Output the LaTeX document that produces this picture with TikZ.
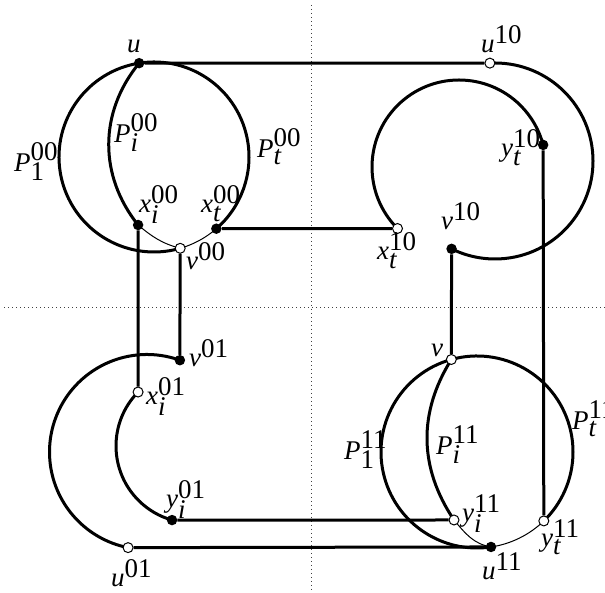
\documentclass[tikz,border=0pt]{standalone}
\usepackage{fontspec}
\setmainfont{Liberation Serif}
\usetikzlibrary{calc}
\pgfdeclarelayer{bg}
\pgfsetlayers{bg,main}
\newcommand{\lb}[3]{$\textit{#1}^{\textrm{#3}}_{#2}$}
\tikzset{
 bdot/.style={circle, fill=black, inner sep=0pt, minimum size=10.5pt},
 wdot/.style={circle, fill=white, draw=black, line width=1pt, inner sep=0pt, minimum size=10pt},
 thickline/.style={line width=3pt},
 thinline/.style={line width=1pt},
 lbl/.style={anchor=base west, inner sep=0pt, font=\fontsize{27}{31}\selectfont},
 dotline/.style={dash pattern=on 1pt off 3pt, line width=1pt, black!75},
}
\begin{document}
\begin{tikzpicture}[x=1pt,y=1pt]
\useasboundingbox (0,0) rectangle (605,593);
\coordinate (cTL) at (154,436);
\coordinate (cTRo) at (495,432);
\coordinate (cTRi) at (459,426);
\coordinate (cBLo) at (147,141);
\coordinate (cBLi) at (193,147);
\coordinate (cBR) at (477,141);
\coordinate (dv1) at (311.7,588);
\coordinate (dv2) at (311.7,3);
\coordinate (dh1) at (4,285.7);
\coordinate (dh2) at (605,285.7);

\node[bdot] (u) at ($(cTL)+(99:95)$) {};
\node[wdot] (v00) at ($(cTL)+(286:95)$) {};
\node[bdot] (xt00) at ($(cTL)+(-49:95)$) {};
\node[bdot] (xi00) at (138.1,368) {};

\node[wdot] (u10) at ($(cTRo)+(93:98)$) {};
\node[bdot] (v10) at ($(cTRo)+(243.7:98)$) {};
\node[wdot] (xt10) at ($(cTRi)+(225:87)$) {};
\node[bdot] (yt10) at ($(cTRi)+(14.7:87)$) {};

\node[bdot] (v01) at ($(cBLo)+(70.3:97.5)$) {};
\node[wdot] (u01) at ($(cBLo)+(258.8:97.5)$) {};
\node[wdot] (xi01) at ($(cBLi)+(135.5:77)$) {};
\node[bdot] (yi01) at ($(cBLi)+(254.2:77)$) {};

\node[wdot] (v) at ($(cBR)+(105.5:96)$) {};
\node[bdot] (u11) at ($(cBR)+(278.4:96)$) {};
\node[wdot] (yt11) at ($(cBR)+(-45.9:96)$) {};
\node[wdot] (yi11) at (454,73) {};

\begin{pgfonlayer}{bg}
\draw[dotline] (dv1) -- (dv2);
\draw[dotline] (dh1) -- (dh2);
\draw[thickline] (u.center) arc[start angle=99,end angle=286,radius=95];
\draw[thickline] (u.center) arc[start angle=99,end angle=-49,radius=95];
\draw[thinline] (xt00.center) arc[start angle=-49,end angle=-74,radius=95];
\draw[thickline] (u.center) to[bend right=39] (xi00.center);
\draw[thinline] (xi00.center) to[out=-40,in=165] (v00.center);
\draw[thickline] (u) -- (u10);
\draw[thickline] (xt00) -- (xt10);
\draw[thickline] (xi00) -- (xi01);
\draw[thickline] (v00) -- (v01);
\draw[thickline] (u10.center) arc[start angle=93,end angle=-116.3,radius=98];
\draw[thickline] (xt10.center) arc[start angle=225,end angle=14.7,radius=87];
\draw[thickline] (v10) -- (v);
\draw[thickline] (yt10) -- (yt11);
\draw[thickline] (v01.center) arc[start angle=70.3,end angle=258.8,radius=97.5];
\draw[thickline] (xi01.center) arc[start angle=135.5,end angle=254.2,radius=77];
\draw[thickline] (yi01) -- (yi11);
\draw[thickline] (u01) -- (u11);
\draw[thickline] (v.center) arc[start angle=105.5,end angle=278.4,radius=96];
\draw[thickline] (v.center) arc[start angle=105.5,end angle=-45.9,radius=96];
\draw[thinline] (yt11.center) arc[start angle=-45.9,end angle=-81.6,radius=96];
\draw[thickline] (v.center) to[bend right=33] (yi11.center);
\draw[thinline] (yi11.center) to[out=-50,in=170] (u11.center);
\end{pgfonlayer}

\node[lbl] (lu) at (127,540) {\lb{u}{}{}};
\node[lbl] (lP100) at (14,421) {\lb{P}{\textrm{1}}{00}};
\node[lbl] (lPi00) at (114,450) {\lb{P}{\textit{i}}{00}};
\node[lbl] (lPt00) at (257,435) {\lb{P}{\textit{t}}{00}};
\node[lbl] (lxi00) at (139,380) {\lb{x}{\textit{i}}{00}};
\node[lbl] (lxt00) at (201,380) {\lb{x}{\textit{t}}{00}};
\node[lbl] (lv00) at (186,323) {\lb{v}{}{00}};
\node[lbl] (lu10) at (481,540) {\lb{u}{}{10}};
\node[lbl] (lyt10) at (501,436) {\lb{y}{\textit{t}}{10}};
\node[lbl] (lxt10) at (377,333) {\lb{x}{\textit{t}}{10}};
\node[lbl] (lv10) at (441,363) {\lb{v}{}{10}};
\node[lbl] (lv01) at (189,226) {\lb{v}{}{01}};
\node[lbl] (lxi01) at (146,188) {\lb{x}{\textit{i}}{01}};
\node[lbl] (lyi01) at (166,85) {\lb{y}{\textit{i}}{01}};
\node[lbl] (lu01) at (111,6) {\lb{u}{}{01}};
\node[lbl] (lv) at (431,236) {\lb{v}{}{}};
\node[lbl] (lP111) at (344,133) {\lb{P}{\textrm{1}}{11}};
\node[lbl] (lPi11) at (436,138) {\lb{P}{\textit{i}}{11}};
\node[lbl] (lPt11) at (572,163) {\lb{P}{\textit{t}}{11}};
\node[lbl] (lyi11) at (462,71) {\lb{y}{\textit{i}}{11}};
\node[lbl] (lyt11) at (541,46) {\lb{y}{\textit{t}}{11}};
\node[lbl] (lu11) at (482,13) {\lb{u}{}{11}};
\end{tikzpicture}
\end{document}
